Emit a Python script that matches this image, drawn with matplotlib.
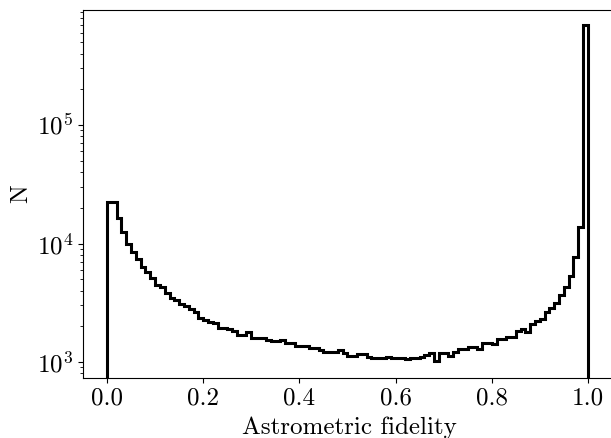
import numpy as np
import matplotlib
matplotlib.use("Agg")
import matplotlib.pyplot as plt

plt.rcParams['font.family'] = 'serif'
plt.rcParams['font.serif'] = ['cmr10']
plt.rcParams['mathtext.fontset'] = 'cm'
plt.rcParams['axes.formatter.use_mathtext'] = True
plt.rcParams['axes.unicode_minus'] = False

bin_edges = np.linspace(0.0, 1.0, 101)
counts = [
    22500, 22500, 16300, 12400, 10000, 8430, 7400, 6370, 5780, 5085,
    4465, 4320, 3800, 3488, 3336, 3069, 2987, 2784, 2658, 2365,
    2262, 2163, 2121, 1948, 1925, 1900, 1827, 1690, 1680, 1781,
    1603, 1600, 1590, 1533, 1518, 1515, 1520, 1438, 1440, 1373,
    1370, 1375, 1320, 1320, 1263, 1222, 1220, 1225, 1263, 1184,
    1130, 1130, 1161, 1160, 1108, 1075, 1075, 1078, 1096, 1081,
    1080, 1082, 1054, 1075, 1075, 1108, 1146, 1198, 1010, 1184,
    1180, 1124, 1222, 1280, 1280, 1331, 1330, 1280, 1438, 1440,
    1419, 1554, 1555, 1616, 1616, 1837, 1888, 1781, 2093, 2231,
    2293, 2658, 2872, 3129, 3677, 4320, 5318, 7646, 13860, 698000,
]
xlabel = "Astrometric fidelity"
ylabel = "N"
xticks = [0.0, 0.2, 0.4, 0.6, 0.8, 1.0]

fig = plt.figure(figsize=(6.11, 4.38), dpi=100)
ax = fig.add_axes([0.1358, 0.137, 0.872, 0.84])
centers = 0.5 * (bin_edges[:-1] + bin_edges[1:])
ax.hist(centers, bins=bin_edges, weights=counts, histtype='step',
        color='black', linewidth=2.2, log=True)
ax.set_xlim(-0.05, 1.058)
ax.set_ylim(733, 9.33e5)
ax.set_xticks(xticks)
ax.set_xticklabels([f"{t:.1f}" for t in xticks])
ax.tick_params(labelsize=18)
ax.set_xlabel(xlabel, fontsize=18, labelpad=5)
ax.set_ylabel(ylabel, fontsize=18, labelpad=3)
fig.savefig("out.png", dpi=100)
